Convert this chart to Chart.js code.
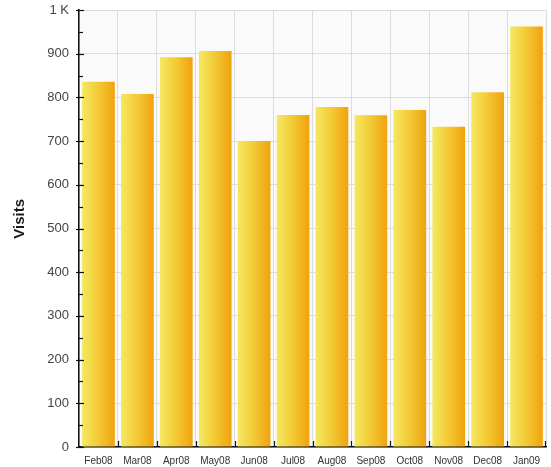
<!DOCTYPE html>
<html>
<head>
<meta charset="utf-8">
<script src="https://cdn.jsdelivr.net/npm/chart.js@4/dist/chart.umd.min.js"></script>
<style>
  html, body { margin: 0; padding: 0; background: #ffffff; }
  #wrap { width: 551px; height: 467px; }
</style>
</head>
<body>
<div id="wrap"><canvas id="c" width="551" height="467"></canvas></div>
<script>
// Monthly visits
const months = ['Feb08','Mar08','Apr08','May08','Jun08','Jul08','Aug08','Sep08','Oct08','Nov08','Dec08','Jan09'];
const visits = [836, 808, 892, 906, 700, 760, 778, 759, 771, 733, 812, 962];
const yTicks = [0, 100, 200, 300, 400, 500, 600, 700, 800, 900, 1000];
const yTitle = 'Visits';

const CAT_PCT = 0.84;

// horizontal yellow-to-orange fill for each bar, placed from the x scale
function barFill(ctx) {
  const chart = ctx.chart;
  const xs = chart.scales && chart.scales.x;
  if (!xs || !chart.chartArea || ctx.dataIndex === undefined) return '#f2c030';
  const cx = xs.getPixelForValue(ctx.dataIndex);
  const step = (chart.chartArea.right - chart.chartArea.left) / months.length;
  const w = step * CAT_PCT;
  if (!isFinite(cx) || !isFinite(w)) return '#f2c030';
  const g = chart.ctx.createLinearGradient(cx - w / 2, 0, cx + w / 2, 0);
  g.addColorStop(0, '#f4e862');
  g.addColorStop(0.45, '#f3cd38');
  g.addColorStop(1, '#f0a20e');
  return g;
}

// pale plot background, axis title and the small tick marks along both axes
const axisDecor = {
  id: 'axisDecor',
  beforeDraw(chart) {
    const { ctx, chartArea: a } = chart;
    ctx.save();
    ctx.fillStyle = '#fafafa';
    ctx.fillRect(a.left, a.top, a.right - a.left, a.bottom - a.top);
    ctx.restore();
  },
  afterDraw(chart) {
    const { ctx, chartArea: a, scales } = chart;
    const y = scales.y, x = scales.x;
    ctx.save();
    // vertical axis title, sitting slightly above the middle of the axis
    ctx.save();
    ctx.translate(20, y.getPixelForValue(522));
    ctx.rotate(-Math.PI / 2);
    ctx.fillStyle = '#1a1a1a';
    ctx.font = 'bold 15px "Liberation Sans", Arial, sans-serif';
    ctx.textAlign = 'center';
    ctx.textBaseline = 'middle';
    ctx.fillText(yTitle, 0, 0);
    ctx.restore();

    ctx.strokeStyle = '#111';
    ctx.lineWidth = 1.2;
    // minor y ticks at the half steps, inside the plot
    for (let i = 0; i < yTicks.length - 1; i++) {
      const v = (yTicks[i] + yTicks[i + 1]) / 2;
      const py = Math.round(y.getPixelForValue(v)) + 0.5;
      ctx.beginPath();
      ctx.moveTo(a.left, py);
      ctx.lineTo(a.left + 4, py);
      ctx.stroke();
    }
    // major y ticks crossing the axis line
    yTicks.forEach(v => {
      const py = Math.round(y.getPixelForValue(v)) + 0.5;
      ctx.beginPath();
      ctx.moveTo(a.left - 3, py);
      ctx.lineTo(a.left + 5, py);
      ctx.stroke();
    });
    // category boundary ticks on the x axis
    for (let i = 1; i < months.length; i++) {
      const px = Math.round((x.getPixelForValue(i - 1) + x.getPixelForValue(i)) / 2) + 0.5;
      ctx.beginPath();
      ctx.moveTo(px, a.bottom);
      ctx.lineTo(px, a.bottom - 6);
      ctx.stroke();
    }
    const pxEnd = Math.round(a.right) - 0.5;
    ctx.beginPath();
    ctx.moveTo(pxEnd, a.bottom);
    ctx.lineTo(pxEnd, a.bottom - 6);
    ctx.stroke();
    ctx.restore();
  }
};

new Chart(document.getElementById('c'), {
  type: 'bar',
  data: {
    labels: months,
    datasets: [{
      data: visits,
      backgroundColor: barFill,
      borderWidth: 0,
      categoryPercentage: CAT_PCT,
      barPercentage: 1.0
    }]
  },
  options: {
    responsive: false,
    animation: false,
    devicePixelRatio: 1,
    layout: { padding: { top: 0, right: 5, bottom: 0, left: 0 } },
    plugins: {
      legend: { display: false },
      tooltip: { enabled: false }
    },
    scales: {
      x: {
        offset: true,
        afterFit(scale) { scale.height = 20; },
        grid: {
          offset: true,
          color: '#dcdcdc',
          lineWidth: 1,
          drawTicks: false
        },
        border: { display: true, color: '#111', width: 1.5 },
        ticks: {
          color: '#333',
          font: { family: 'Liberation Sans, Arial, sans-serif', size: 10 },
          padding: 8,
          maxRotation: 0,
          autoSkip: false
        }
      },
      y: {
        min: 0,
        max: 1000,
        afterBuildTicks(scale) { scale.ticks = yTicks.map(v => ({ value: v })); },
        afterFit(scale) {
          scale.width = 79;
          scale.paddingTop = 10;
          scale.paddingBottom = 0;
        },
        grid: {
          color: '#dcdcdc',
          lineWidth: 1,
          drawTicks: false
        },
        border: { display: true, color: '#111', width: 1.5 },
        title: { display: false },
        ticks: {
          color: '#444',
          font: { family: 'Liberation Sans, Arial, sans-serif', size: 13 },
          padding: 10,
          callback: v => v === 1000 ? '1 K' : String(v)
        }
      }
    }
  },
  plugins: [axisDecor]
});
</script>
</body>
</html>
